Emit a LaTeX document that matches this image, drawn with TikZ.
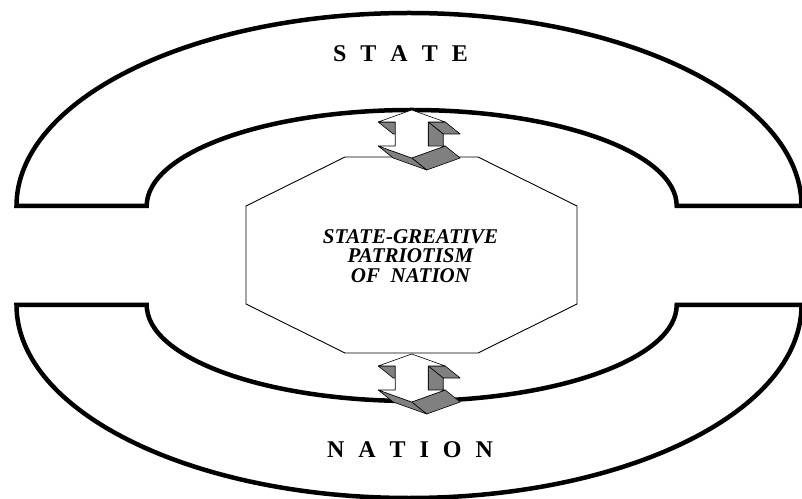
\documentclass[tikz,border=0pt]{standalone}
\usepackage{fontspec}
\setmainfont{Liberation Serif}
\definecolor{sidegray}{RGB}{128,128,128}
\tikzset{
  thickline/.style={line width=4.5pt, line join=miter},
  octo/.style={line width=0.9pt},
  face/.style={fill=white, draw=black, line width=0.6pt, line join=round},
  side/.style={fill=sidegray, draw=black, line width=0.6pt, line join=round},
  biglabel/.style={font=\fontsize{24}{28}\selectfont\bfseries, inner sep=0pt, anchor=base},
  midtext/.style={font=\fontsize{21}{19.5}\selectfont\bfseries\itshape, align=center, anchor=north, inner sep=0pt},
  updown/.pic={
    \filldraw[side] (-33.5,-12) -- (-16.5,-12) -- (-1.5,-24) -- (-18.5,-24) -- cycle;
    \filldraw[side] (16.5,-12) -- (33.5,-12) -- (48.5,-24) -- (31.5,-24) -- cycle;
    \filldraw[side] (16.5,-12) -- (31.5,-24) -- (31.5,-48) -- (16.5,-36) -- cycle;
    \filldraw[side] (33.5,-36) -- (0,-48) -- (15,-60) -- (48.5,-48) -- cycle;
    \filldraw[side] (-33.5,-36) -- (0,-48) -- (15,-60) -- (-18.5,-48) -- cycle;
    \filldraw[face] (0,0) -- (33.5,-12) -- (16.5,-12) -- (16.5,-36) -- (33.5,-36)
      -- (0,-48) -- (-33.5,-36) -- (-16.5,-36) -- (-16.5,-12) -- (-33.5,-12) -- cycle;
  }
}
\begin{document}
\begin{tikzpicture}[x=1pt,y=1pt]
\useasboundingbox (0,0) rectangle (802,498);
% STATE band
\draw[thickline] (146.7,292) -- (16.5,292)
  arc[start angle=180,end angle=0,x radius=392.5pt,y radius=193pt]
  -- (676.7,292)
  arc[start angle=0,end angle=180,x radius=265pt,y radius=96pt] -- cycle;
% NATION band
\draw[thickline] (146.7,193) -- (16.5,193)
  arc[start angle=180,end angle=360,x radius=392.5pt,y radius=193pt]
  -- (676.7,193)
  arc[start angle=360,end angle=180,x radius=265pt,y radius=96pt] -- cycle;
% central octagon
\draw[octo] (345,341) -- (478,341) -- (577,292) -- (577,194) -- (478,145)
  -- (345,145) -- (246,194) -- (246,292) -- cycle;
% arrows
\pic at (411.7,388) {updown};
\pic at (411.7,144) {updown};
% texts
\node[biglabel] (state) at (400.5,436) {{\spaceskip=14pt S T A T E}};
\node[biglabel] (nation) at (410,41) {{\spaceskip=14pt N A T I O N}};
\node[midtext] (core) at (410.5,269) {STATE-GREATIVE\\PATRIOTISM\\OF\enspace NATION};
\end{tikzpicture}
\end{document}
